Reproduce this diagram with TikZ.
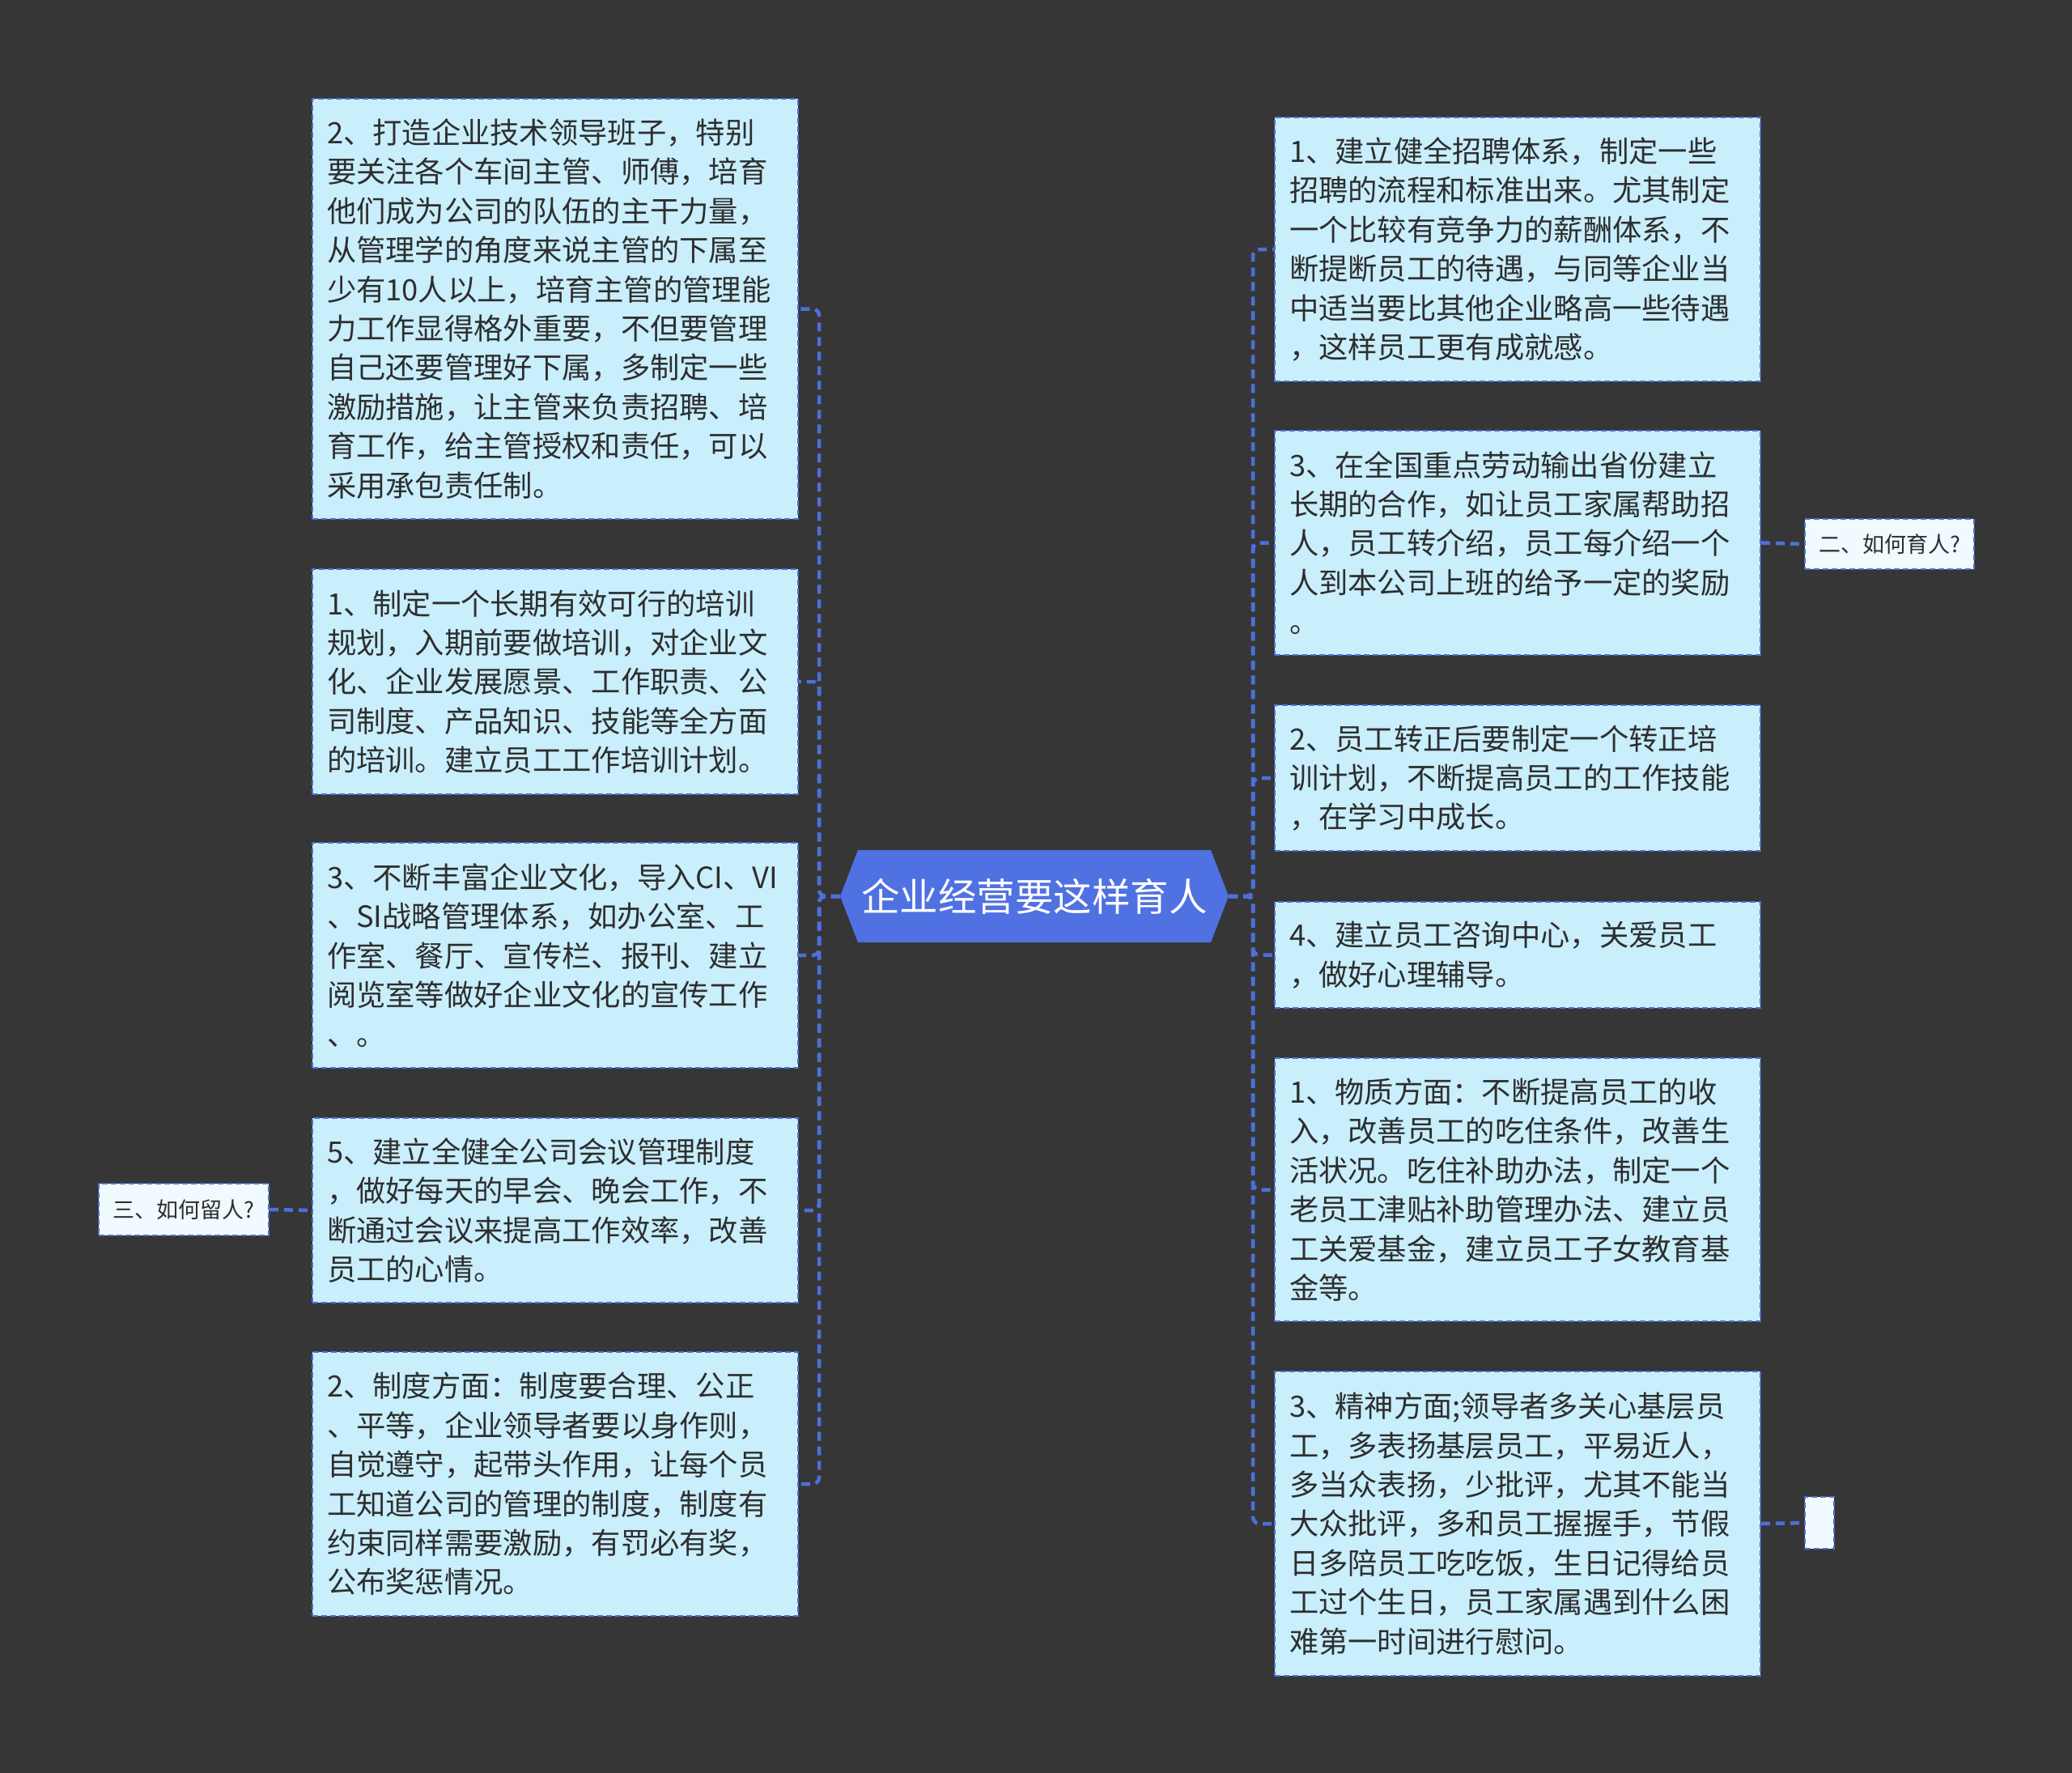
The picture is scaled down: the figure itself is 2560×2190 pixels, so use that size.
\documentclass[tikz,border=0pt]{standalone}
\usepackage{fontspec}
\setmainfont{Noto Sans CJK SC}
\definecolor{bgc}{HTML}{363636}
\definecolor{boxfill}{HTML}{C9EEFC}
\definecolor{linec}{HTML}{4E6FDA}
\definecolor{centerc}{HTML}{4F71E1}
\definecolor{textc}{HTML}{2E2E2E}
\definecolor{qfill}{HTML}{F0FAFF}
\tikzset{
  itembox/.style={draw=linec, line width=2pt, dash pattern=on 7pt off 4pt,
    fill=boxfill, text=textc, font=\fontsize{36.3}{48.4}\selectfont,
    align=left, text width=564pt, inner xsep=18pt, inner ysep=0pt, anchor=north west},
  qbox/.style={draw=linec, line width=2pt, dash pattern=on 7pt off 4pt,
    fill=qfill, text=textc, font=\fontsize{27}{32}\selectfont,
    inner sep=0pt, anchor=north west},
  conn/.style={draw=linec, line width=4.5pt, dash pattern=on 11pt off 7pt, rounded corners=8pt},
}
\begin{document}
\begin{tikzpicture}[x=1pt,y=-1pt]
\useasboundingbox (0,0) rectangle (2560,2190);
\fill[bgc] (0,0) rectangle (2560,2190);

% center
\fill[centerc] (1038,1107) -- (1060,1050) -- (1496,1050) -- (1518,1107) -- (1496,1164) -- (1060,1164) -- cycle;
\node[minimum width=480pt, minimum height=114pt, inner sep=0pt, text=white,
  font=\fontsize{47.5}{52}\selectfont] (c) at (1278,1107) {企业经营要这样育人};

% left boxes
\node[itembox, minimum height=519pt] (L1) at (385,121) {2、打造企业技术领导班子，特别\\要关注各个车间主管、师傅，培育\\他们成为公司的队伍的主干力量，\\从管理学的角度来说主管的下属至\\少有10人以上，培育主管的管理能\\力工作显得格外重要，不但要管理\\自己还要管理好下属，多制定一些\\激励措施，让主管来负责招聘、培\\育工作，给主管授权和责任，可以\\采用承包责任制。};
\node[itembox, minimum height=278pt] (L2) at (385,702) {1、制定一个长期有效可行的培训\\规划，入期前要做培训，对企业文\\化、企业发展愿景、工作职责、公\\司制度、产品知识、技能等全方面\\的培训。建立员工工作培训计划。};
\node[itembox, minimum height=278pt] (L3) at (385,1040) {3、不断丰富企业文化，导入CI、VI\\、SI战略管理体系，如办公室、工\\作室、餐厅、宣传栏、报刊、建立\\阅览室等做好企业文化的宣传工作\\、。};
\node[itembox, minimum height=228pt] (L4) at (385,1380) {5、建立全健全公司会议管理制度\\，做好每天的早会、晚会工作，不\\断通过会议来提高工作效率，改善\\员工的心情。};
\node[itembox, minimum height=326pt] (L5) at (385,1669) {2、制度方面：制度要合理、公正\\、平等，企业领导者要以身作则，\\自觉遵守，起带头作用，让每个员\\工知道公司的管理的制度，制度有\\约束同样需要激励，有罚必有奖，\\公布奖惩情况。};

% right boxes
\node[itembox, minimum height=326pt] (R1) at (1574,144) {1、建立健全招聘体系，制定一些\\招聘的流程和标准出来。尤其制定\\一个比较有竞争力的薪酬体系，不\\断提断员工的待遇，与同等企业当\\中适当要比其他企业略高一些待遇\\，这样员工更有成就感。};
\node[itembox, minimum height=277pt] (R2) at (1574,531) {3、在全国重点劳动输出省份建立\\长期的合作，如让员工家属帮助招\\人，员工转介绍，员工每介绍一个\\人到本公司上班的给予一定的奖励\\。};
\node[itembox, minimum height=180pt] (R3) at (1574,870) {2、员工转正后要制定一个转正培\\训计划，不断提高员工的工作技能\\，在学习中成长。};
\node[itembox, minimum height=131pt] (R4) at (1574,1113) {4、建立员工咨询中心，关爱员工\\，做好心理辅导。};
\node[itembox, minimum height=325pt] (R5) at (1574,1306) {1、物质方面：不断提高员工的收\\入，改善员工的吃住条件，改善生\\活状况。吃住补助办法，制定一个\\老员工津贴补助管理办法、建立员\\工关爱基金，建立员工子女教育基\\金等。};
\node[itembox, minimum height=376pt] (R6) at (1574,1693) {3、精神方面;领导者多关心基层员\\工，多表扬基层员工，平易近人，\\多当众表扬，少批评，尤其不能当\\大众批评，多和员工握握手，节假\\日多陪员工吃吃饭，生日记得给员\\工过个生日，员工家属遇到什么困\\难第一时间进行慰问。};

% small nodes
\node[qbox, minimum width=209pt, minimum height=62pt] (q2) at (2229,640) {二、如何育人?};
\node[qbox, minimum width=210pt, minimum height=64pt] (q3) at (121,1461) {三、如何留人?};
\node[qbox, minimum width=36pt, minimum height=64pt] (e) at (2229,1848) {};

% spines
\coordinate (ls) at (1012,1107);
\coordinate (rs) at (1548,1107);

\foreach \n in {L1,L2,L3,L4,L5}
  \draw[conn] (c.west) -- (ls) |- (\n.east);
\foreach \n in {R1,R2,R3,R4,R5,R6}
  \draw[conn] (c.east) -- (rs) |- (\n.west);

\draw[conn] (R2.east) -- (q2.west);
\draw[conn] (q3.east) -- (L4.west);
\draw[conn] (R6.east) -- (e.west);
\end{tikzpicture}
\end{document}
